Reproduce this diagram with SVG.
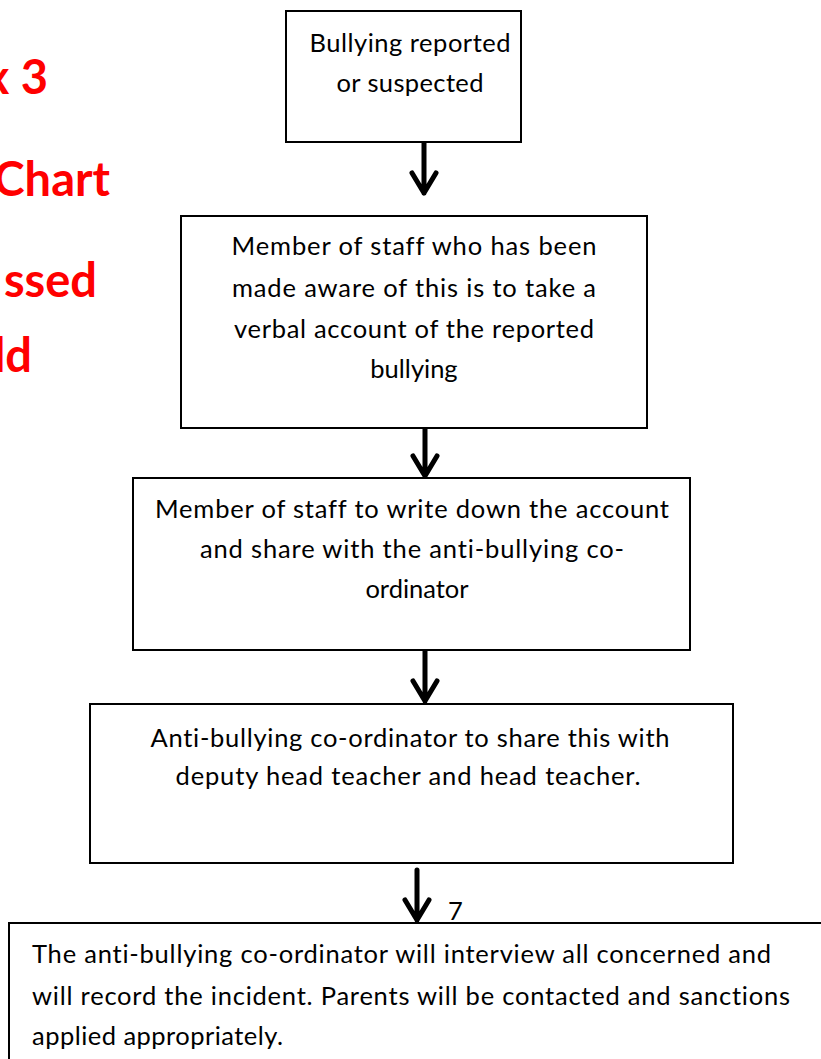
<svg xmlns="http://www.w3.org/2000/svg" width="821" height="1059" viewBox="0 0 821 1059">
<style>
text{font-variant-ligatures:none}
.box{fill:#fff;stroke:#000;stroke-width:2}
.t{font-family:Lato,"Liberation Sans",sans-serif;font-size:25.5px;fill:#000;text-anchor:middle}
.tl{font-family:Lato,"Liberation Sans",sans-serif;font-size:25.5px;fill:#000}
.r{font-family:Lato,"Liberation Sans",sans-serif;font-size:47px;font-weight:bold;fill:#ff0000;text-anchor:end}
.arr{fill:none;stroke:#000;stroke-width:5;stroke-linecap:round;stroke-linejoin:round}
</style>
<rect width="821" height="1059" fill="#fff"/>
<g id="title">
<text class="r" x="48" y="94">x 3</text>
<text class="r" x="110" y="196">Chart</text>
<text class="r" x="97" y="297">ssed</text>
<text class="r" x="32" y="372">ld</text>
</g>
<g id="connectors">
<path class="arr" d="M424 143 V193 M412 173 L424 193 L436 173"/>
<path class="arr" d="M425 426 V476 M413 456 L425 476 L437 456"/>
<path class="arr" d="M425 651 V701 M413 681 L425 701 L437 681"/>
<path class="arr" d="M417 870 V920 M405 900 L417 920 L429 900"/>
</g>
<g id="n1">
<rect class="box" x="286" y="11" width="235" height="131"/>
<text class="t" x="410" y="52" textLength="201" lengthAdjust="spacing">Bullying reported</text>
<text class="t" x="410" y="92" textLength="147" lengthAdjust="spacing">or suspected</text>
</g>
<g id="n2">
<rect class="box" x="181" y="216" width="466" height="212"/>
<text class="t" x="414" y="255" textLength="365" lengthAdjust="spacing">Member of staff who has been</text>
<text class="t" x="414" y="297" textLength="364" lengthAdjust="spacing">made aware of this is to take a</text>
<text class="t" x="414" y="338" textLength="360" lengthAdjust="spacing">verbal account of the reported</text>
<text class="t" x="414" y="378">bullying</text>
</g>
<g id="n3">
<rect class="box" x="133" y="478" width="557" height="172"/>
<text class="t" x="412" y="518" textLength="514" lengthAdjust="spacing">Member of staff to write down the account</text>
<text class="t" x="412" y="558" textLength="424" lengthAdjust="spacing">and share with the anti-bullying co-</text>
<text class="t" x="417" y="598">ordinator</text>
</g>
<g id="n4">
<rect class="box" x="90" y="704" width="643" height="159"/>
<text class="t" x="410" y="747" textLength="519" lengthAdjust="spacing">Anti-bullying co-ordinator to share this with</text>
<text class="t" x="408" y="785" textLength="465" lengthAdjust="spacing">deputy head teacher and head teacher.</text>
</g>
<g id="n5">
<rect class="box" x="9" y="923" width="830" height="160"/>
<text class="tl" x="32" y="963" textLength="739" lengthAdjust="spacing">The anti-bullying co-ordinator will interview all concerned and</text>
<text class="tl" x="32" y="1005" textLength="758" lengthAdjust="spacing">will record the incident. Parents will be contacted and sanctions</text>
<text class="tl" x="32" y="1045" textLength="251" lengthAdjust="spacing">applied appropriately.</text>
</g>
<text class="tl" x="448" y="920">7</text>
</svg>
